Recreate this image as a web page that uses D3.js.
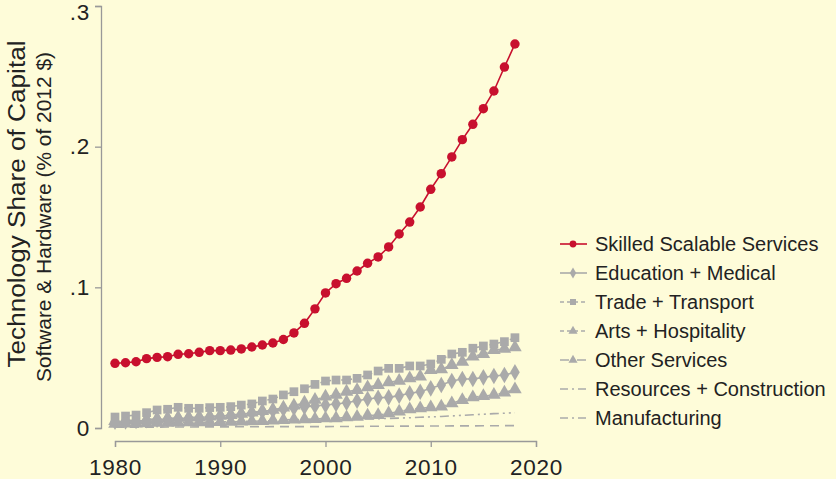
<!DOCTYPE html>
<meta charset="utf-8">
<script src="https://d3js.org/d3.v7.min.js"></script>
<style>
  body { margin: 0; background: #fefcd9; }
  text { font-family: "Liberation Sans", Arial, sans-serif; fill: #222; }
</style>
<div id="chart"></div>
<script>
// years 1980-2018
var years = d3.range(1980, 2019);

var skilled = [0.046, 0.0464, 0.0471, 0.0493, 0.0502, 0.0507, 0.0524, 0.0528, 0.0538, 0.055,
  0.055, 0.0554, 0.0562, 0.0576, 0.059, 0.0604, 0.0629, 0.0676, 0.0744, 0.0847,
  0.096, 0.1026, 0.1064, 0.1116, 0.1171, 0.1216, 0.1287, 0.1379, 0.1464, 0.1571,
  0.1697, 0.1808, 0.1927, 0.205, 0.2159, 0.227, 0.2396, 0.2566, 0.273];

var education = [0.0045, 0.0047, 0.005, 0.0055, 0.006, 0.0064, 0.0068, 0.0071, 0.0075, 0.008,
  0.0085, 0.009, 0.0098, 0.0108, 0.0118, 0.0125, 0.0135, 0.0143, 0.015, 0.0157,
  0.0163, 0.0171, 0.018, 0.0194, 0.0206, 0.0215, 0.0218, 0.023, 0.0247, 0.0258,
  0.0282, 0.0306, 0.0334, 0.0348, 0.0348, 0.036, 0.037, 0.0377, 0.0396];

var trade = [0.0078, 0.0085, 0.0092, 0.0109, 0.0128, 0.0133, 0.0147, 0.014, 0.014, 0.0145,
  0.0147, 0.0152, 0.0163, 0.0171, 0.0192, 0.0206, 0.0235, 0.0258, 0.0279, 0.031,
  0.0334, 0.0341, 0.0341, 0.0353, 0.0377, 0.0405, 0.0424, 0.0424, 0.0441, 0.0441,
  0.0455, 0.0488, 0.0526, 0.0538, 0.0567, 0.0583, 0.0597, 0.0614, 0.0642];

var arts = [0.005, 0.0053, 0.0056, 0.006, 0.0065, 0.0068, 0.0072, 0.0074, 0.0078, 0.0082,
  0.0087, 0.0092, 0.01, 0.011, 0.012, 0.013, 0.0145, 0.016, 0.018, 0.02,
  0.0223, 0.0235, 0.0258, 0.027, 0.0289, 0.0306, 0.0325, 0.0336, 0.0353, 0.0365,
  0.0412, 0.0417, 0.0448, 0.0471, 0.0507, 0.0526, 0.0554, 0.0562, 0.0574];

var other = [0.003, 0.0031, 0.0032, 0.0034, 0.0036, 0.0037, 0.0039, 0.004, 0.0041, 0.0042,
  0.0043, 0.0044, 0.0046, 0.0048, 0.005, 0.0052, 0.0057, 0.006, 0.0062, 0.0064,
  0.0069, 0.0069, 0.0076, 0.008, 0.0088, 0.0092, 0.0104, 0.0116, 0.0133, 0.014,
  0.0147, 0.0152, 0.0176, 0.0199, 0.0218, 0.0227, 0.0235, 0.0251, 0.0275];

var resources = [0.0028, 0.0029, 0.003, 0.003, 0.0031, 0.0032, 0.0033, 0.0034, 0.0035, 0.0036,
  0.0037, 0.0038, 0.0039, 0.004, 0.0042, 0.0044, 0.0046, 0.0048, 0.005, 0.0053,
  0.0056, 0.0058, 0.006, 0.0062, 0.0064, 0.0066, 0.0068, 0.007, 0.0073, 0.0076,
  0.0079, 0.0082, 0.0086, 0.009, 0.0094, 0.0098, 0.0102, 0.0105, 0.0109];

var manufacturing = [0.0005, 0.0005, 0.0006, 0.0006, 0.0006, 0.0007, 0.0007, 0.0007, 0.0008, 0.0008,
  0.0008, 0.0008, 0.0009, 0.0009, 0.0009, 0.001, 0.001, 0.001, 0.001, 0.001,
  0.001, 0.0011, 0.0011, 0.0011, 0.0012, 0.0012, 0.0012, 0.0013, 0.0013, 0.0013,
  0.0014, 0.0014, 0.0015, 0.0015, 0.0015, 0.0016, 0.0016, 0.0017, 0.0017];

var seriesNames = ["Skilled Scalable Services", "Education + Medical", "Trade + Transport",
  "Arts + Hospitality", "Other Services", "Resources + Construction", "Manufacturing"];
var seriesValues = [skilled, education, trade, arts, other, resources, manufacturing];

var yTicks = [0, 0.1, 0.2, 0.3];
var yTickLabels = ["0", ".1", ".2", ".3"];
var xTicks = [1980, 1990, 2000, 2010, 2020];

var red = "#c8102e", gray = "#aaaaaa";
var styles = [
  {color: red, dash: null, marker: "circle"},
  {color: gray, dash: null, marker: "diamond"},
  {color: gray, dash: "4,3", marker: "square"},
  {color: gray, dash: "4,3", marker: "triangle"},
  {color: gray, dash: "9,3,2,3", marker: "triangle"},
  {color: gray, dash: "9,4,2,4,2,4", marker: null},
  {color: gray, dash: "9,6", marker: null}
];

var W = 836, H = 479;
var svg = d3.select("#chart").append("svg")
  .attr("width", W).attr("height", H)
  .style("background", "#fefcd9");

var x = d3.scaleLinear().domain([1980, 2020]).range([115, 536]);
var y = d3.scaleLinear().domain([0, 0.3]).range([428, 6]);

// y axis
var yAxis = svg.append("g").attr("transform", "translate(101,0)")
  .call(d3.axisLeft(y).tickValues(yTicks).tickSize(6).tickPadding(5)
    .tickFormat(function(d, i) { return yTickLabels[i]; }));
// x axis
var xAxis = svg.append("g").attr("transform", "translate(0,441)")
  .call(d3.axisBottom(x).tickValues(xTicks).tickSize(6).tickPadding(12).tickFormat(d3.format("d")));

[yAxis, xAxis].forEach(function(g) {
  g.select(".domain").attr("stroke", "#999").attr("stroke-width", 1.3);
  g.selectAll(".tick line").attr("stroke", "#999").attr("stroke-width", 1.3);
  g.selectAll(".tick text").style("font-size", "22.5px").attr("fill", "#222")
    .style("letter-spacing", "0.8px")
    .style("font-family", "Liberation Sans, Arial, sans-serif");
});
// keep the top label inside the picture
yAxis.selectAll(".tick text").filter(function(d) { return d === 0.3; }).attr("dy", "0.62em");

// axis titles
svg.append("text")
  .attr("transform", "translate(25,204) rotate(-90)")
  .attr("text-anchor", "middle")
  .attr("textLength", 327).attr("lengthAdjust", "spacingAndGlyphs")
  .style("font-size", "23px")
  .text("Technology Share of Capital");
svg.append("text")
  .attr("transform", "translate(51,217) rotate(-90)")
  .attr("text-anchor", "middle")
  .attr("textLength", 330).attr("lengthAdjust", "spacingAndGlyphs")
  .style("font-size", "19.5px")
  .text("Software & Hardware (% of 2012 $)");

function markerPath(type, size) {
  var sym = {circle: d3.symbolCircle, diamond: d3.symbolDiamond,
             square: d3.symbolSquare, triangle: d3.symbolTriangle}[type];
  return d3.symbol().type(sym).size(size)();
}

var line = d3.line()
  .x(function(d, i) { return x(years[i]); })
  .y(function(d) { return y(d); });

// draw gray first, red on top
var order = [6, 5, 4, 3, 2, 1, 0];
order.forEach(function(k) {
  var st = styles[k];
  var g = svg.append("g");
  g.append("path")
    .datum(seriesValues[k])
    .attr("fill", "none")
    .attr("stroke", st.color)
    .attr("stroke-width", 1.6)
    .attr("stroke-dasharray", st.dash)
    .attr("d", line);
  if (st.marker) {
    var sz = {circle: 70, diamond: 80, square: 76, triangle: 80}[st.marker];
    g.selectAll("path.m").data(seriesValues[k]).enter().append("path")
      .attr("class", "m")
      .attr("transform", function(d, i) { return "translate(" + x(years[i]) + "," + y(d) + ")"; })
      .attr("d", markerPath(st.marker, sz))
      .attr("fill", st.color);
  }
});

// legend
var legend = svg.append("g");
seriesNames.forEach(function(name, i) {
  var st = styles[i];
  var ly = 244 + i * 29;
  legend.append("line")
    .attr("x1", 560).attr("x2", 587).attr("y1", ly).attr("y2", ly)
    .attr("stroke", st.color).attr("stroke-width", 1.6)
    .attr("stroke-dasharray", st.dash ? (i >= 5 ? "8,4,2,4" : st.dash) : null);
  if (st.marker) {
    legend.append("path")
      .attr("transform", "translate(573," + ly + ")")
      .attr("d", markerPath(st.marker, 36))
      .attr("fill", st.color);
  }
  legend.append("text")
    .attr("x", 595).attr("y", ly)
    .attr("dy", "0.35em")
    .style("font-size", "20px")
    .text(name);
});
</script>
